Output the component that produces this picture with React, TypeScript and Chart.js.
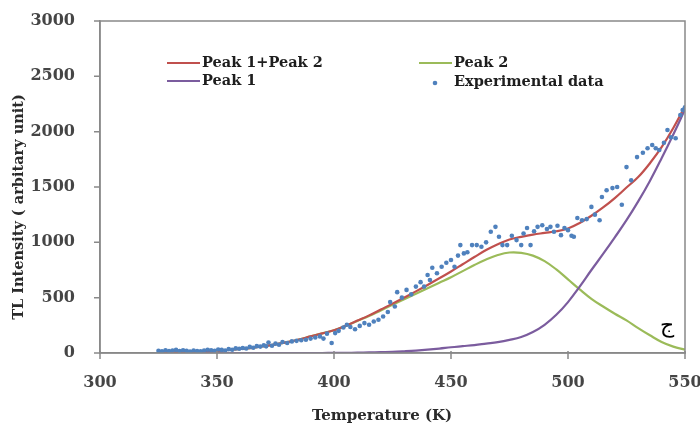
import React, { useEffect, useRef } from "react";
import { Chart, registerables } from "chart.js";

Chart.register(...registerables);

// Temperatures (K) at which the fitted curves were read
const curveTemps = [
  325, 330, 335, 340, 345, 350, 355, 360, 365, 370, 375, 380, 385, 390, 395,
  400, 405, 410, 415, 420, 425, 430, 435, 440, 445, 450, 455, 460, 465, 470,
  475, 480, 485, 490, 495, 500, 505, 510, 515, 520, 525, 530, 535, 540, 545, 550,
];

// Peak 1+Peak 2 (fitted sum)
const peakSum = [
  4, 6, 8, 11, 15, 20, 27, 36, 47, 61, 78, 98, 122, 150, 177,
  206, 247, 293, 340, 393, 446, 501, 557, 615, 675, 737, 802, 867, 930, 983,
  1026, 1050, 1070, 1085, 1100, 1125, 1175, 1240, 1315, 1400, 1495, 1590, 1715, 1860, 2033, 2230,
];

// Peak 1
const peak1 = [
  0, 0, 0, 0, 0, 0, 0, 0, 0, 0, 0, 0, 0, 0, 0,
  1, 2, 3, 5, 8, 11, 16, 22, 30, 40, 52, 62, 72, 85, 98,
  118, 145, 190, 255, 345, 460, 600, 750, 895, 1045, 1200, 1370, 1555, 1760, 1975, 2200,
];

// Peak 2
const peak2 = [
  4, 6, 8, 11, 15, 20, 27, 36, 47, 61, 78, 98, 122, 150, 177,
  205, 245, 290, 335, 385, 435, 485, 535, 585, 635, 685, 740, 795, 845, 885,
  908, 905, 880, 830, 755, 665, 575, 490, 420, 355, 295, 225, 160, 100, 58, 30,
];

// Experimental data
const expTemps = [
  325, 326.5, 328, 329.5, 331, 332.5, 334, 335.5, 337, 338.5, 340, 341.5, 343, 344.5, 346,
  347.5, 349, 350.5, 352, 353.5, 355, 356.5, 358, 359.5, 361, 362.5, 364, 365.5, 367, 368.5,
  370, 371, 372, 373.5, 375, 376.5, 378, 380, 382, 384, 386, 388, 390, 392, 394,
  395.5, 397, 399, 400.5, 402, 404, 405.5, 407, 409, 411, 413, 415, 417, 419, 421,
  423, 424, 426, 427, 429, 431, 433, 435, 437, 438.5, 440, 441, 442, 444, 446,
  448, 450, 451.5, 453, 454, 455.5, 457, 459, 461, 463, 465, 467, 469, 470.5, 472,
  474, 476, 478, 480, 481, 482.5, 484, 485.5, 487, 489, 491, 492.5, 494, 495.5, 497,
  498.5, 500, 501.5, 502.5, 504, 506, 508, 510, 511.5, 513.5, 514.5, 516.5, 519, 521, 523,
  525, 527, 529.5, 532, 534, 536, 537.5, 539, 541, 542.5, 544, 546, 548, 549, 550,
];
const expValues = [
  20, 15, 25, 18, 22, 28, 18, 25, 20, 12, 22, 18, 15, 22, 30,
  25, 20, 32, 28, 22, 35, 30, 42, 38, 45, 40, 55, 48, 62, 58,
  70, 60, 95, 65, 85, 75, 100, 90, 105, 110, 115, 120, 130, 140, 150,
  130, 175, 90, 180, 200, 230, 255, 235, 215, 245, 270, 255, 285, 300, 330,
  370, 460, 420, 550, 500, 570, 530, 600, 640, 600, 705, 660, 770, 720, 780,
  815, 840, 780, 880, 975, 900, 910, 975, 975, 960, 1000, 1095, 1140, 1050, 975,
  975, 1060, 1020, 975, 1080, 1130, 975, 1100, 1140, 1155, 1120, 1140, 1095, 1150, 1065,
  1130, 1110, 1060, 1050, 1220, 1200, 1210, 1320, 1250, 1200, 1410, 1470, 1490, 1500, 1340,
  1680, 1560, 1770, 1810, 1850, 1880, 1850, 1835, 1900, 2015, 1950, 1940, 2150, 2195, 2220,
];

const xTicks = [300, 350, 400, 450, 500, 550];
const yTicks = [0, 500, 1000, 1500, 2000, 2500, 3000];

const seriesLabels = ["Peak 1+Peak 2", "Peak 1", "Peak 2", "Experimental data"];
const xTitle = "Temperature (K)";
const yTitle = "TL Intensity ( arbitary unit)";
const cornerMark = "ج";

const SERIF = "'DejaVu Serif', serif";
const AXIS_GREY = "#898989";

const framePlugin = {
  id: "frameAndLegend",
  afterDraw(chart: any) {
    const { ctx, chartArea } = chart;
    const xs = chart.scales.x;
    const ys = chart.scales.y;
    ctx.save();
    // plot frame
    ctx.strokeStyle = AXIS_GREY;
    ctx.lineWidth = 1.5;
    ctx.strokeRect(chartArea.left, chartArea.top, chartArea.right - chartArea.left, chartArea.bottom - chartArea.top);

    // tick marks (outward)
    ctx.beginPath();
    xTicks.forEach((v) => {
      const px = xs.getPixelForValue(v);
      ctx.moveTo(px, chartArea.bottom - 2);
      ctx.lineTo(px, chartArea.bottom + 6);
    });
    yTicks.forEach((v) => {
      const py = ys.getPixelForValue(v);
      ctx.moveTo(chartArea.left - 6, py);
      ctx.lineTo(chartArea.left, py);
    });
    ctx.stroke();

    // y axis title
    ctx.save();
    ctx.translate(19, 207);
    ctx.rotate(-Math.PI / 2);
    ctx.font = `bold 14.5px ${SERIF}`;
    ctx.fillStyle = "#2a2a2a";
    ctx.textAlign = "center";
    ctx.textBaseline = "middle";
    ctx.fillText(yTitle, 0, 0);
    ctx.restore();

    // x axis title
    ctx.font = `bold 15px ${SERIF}`;
    ctx.fillStyle = "#2a2a2a";
    ctx.textAlign = "center";
    ctx.textBaseline = "middle";
    ctx.fillText(xTitle, 382, 416);

    // in-plot legend
    const slots = [
      { x: 167, y: 63 },
      { x: 167, y: 81 },
      { x: 419, y: 63 },
      { x: 419, y: 82 },
    ];
    ctx.font = `bold 14.5px ${SERIF}`;
    ctx.textBaseline = "middle";
    ctx.textAlign = "left";
    chart.data.datasets.forEach((ds: any, i: number) => {
      const s = slots[i];
      if (!s) return;
      if (ds.showLine) {
        ctx.strokeStyle = ds.borderColor;
        ctx.lineWidth = 2.2;
        ctx.beginPath();
        ctx.moveTo(s.x, s.y);
        ctx.lineTo(s.x + 33, s.y);
        ctx.stroke();
      } else {
        ctx.fillStyle = ds.backgroundColor;
        ctx.beginPath();
        ctx.arc(s.x + 16, s.y + 1, 2.3, 0, Math.PI * 2);
        ctx.fill();
      }
      ctx.fillStyle = "#1e1e1e";
      ctx.fillText(ds.label, s.x + 35, s.y);
    });

    // corner mark
    ctx.font = `22px 'DejaVu Sans', sans-serif`;
    ctx.fillStyle = "#000";
    ctx.textAlign = "center";
    ctx.textBaseline = "middle";
    ctx.fillText(cornerMark, 667, 326);
    ctx.restore();
  },
};

export default function App() {
  const ref = useRef<HTMLCanvasElement | null>(null);

  useEffect(() => {
    if (!ref.current) return;
    const toPts = (xs: number[], ys: number[]) => xs.map((x, i) => ({ x, y: ys[i] }));
    const chart = new Chart(ref.current, {
      type: "scatter",
      data: {
        datasets: [
          {
            label: seriesLabels[0],
            data: toPts(curveTemps, peakSum),
            showLine: true,
            borderColor: "#C0504D",
            backgroundColor: "#C0504D",
            borderWidth: 2.2,
            pointRadius: 0,
            tension: 0.4,
            order: 1,
          },
          {
            label: seriesLabels[1],
            data: toPts(curveTemps, peak1),
            showLine: true,
            borderColor: "#7B5C9E",
            backgroundColor: "#7B5C9E",
            borderWidth: 2.2,
            pointRadius: 0,
            tension: 0.4,
            order: 2,
          },
          {
            label: seriesLabels[2],
            data: toPts(curveTemps, peak2),
            showLine: true,
            borderColor: "#9BBB59",
            backgroundColor: "#9BBB59",
            borderWidth: 2.2,
            pointRadius: 0,
            tension: 0.4,
            order: 3,
          },
          {
            label: seriesLabels[3],
            data: toPts(expTemps, expValues),
            showLine: false,
            borderColor: "#4F81BD",
            backgroundColor: "#4F81BD",
            pointRadius: 2.3,
            pointBorderWidth: 0,
            order: 0,
          },
        ],
      },
      options: {
        animation: false,
        responsive: false,
        devicePixelRatio: 1,
        layout: { padding: { top: 21, right: 15, left: 0, bottom: 0 } },
        plugins: {
          legend: { display: false },
          tooltip: { enabled: false },
        },
        scales: {
          x: {
            type: "linear",
            min: xTicks[0],
            max: xTicks[xTicks.length - 1],
            afterBuildTicks: (s: any) => {
              s.ticks = xTicks.map((v) => ({ value: v }));
            },
            afterFit: (s: any) => {
              s.height = 74;
              s.paddingLeft = 0;
              s.paddingRight = 0;
            },
            ticks: {
              font: { family: SERIF, size: 16, weight: "bold" },
              color: "#454545",
              padding: 12,
              callback: (v: any) => String(v),
            },
            grid: { display: false },
            border: { display: true, color: AXIS_GREY, width: 1.5 },
            title: { display: false },
          },
          y: {
            type: "linear",
            min: yTicks[0],
            max: yTicks[yTicks.length - 1],
            afterBuildTicks: (s: any) => {
              s.ticks = yTicks.map((v) => ({ value: v }));
            },
            afterFit: (s: any) => {
              s.width = 100;
              s.paddingTop = 0;
              s.paddingBottom = 0;
            },
            ticks: {
              font: { family: SERIF, size: 16, weight: "bold" },
              color: "#454545",
              padding: 17,
              callback: (v: any) => String(v),
            },
            grid: { display: false },
            border: { display: true, color: AXIS_GREY, width: 1.5 },
            title: { display: false },
          },
        },
      },
      plugins: [framePlugin],
    } as any);
    return () => chart.destroy();
  }, []);

  return (
    <div style={{ position: "absolute", left: 0, top: 0, width: 700, height: 427, background: "#fff" }}>
      <canvas ref={ref} width={700} height={427} style={{ width: 700, height: 427 }} />
    </div>
  );
}
